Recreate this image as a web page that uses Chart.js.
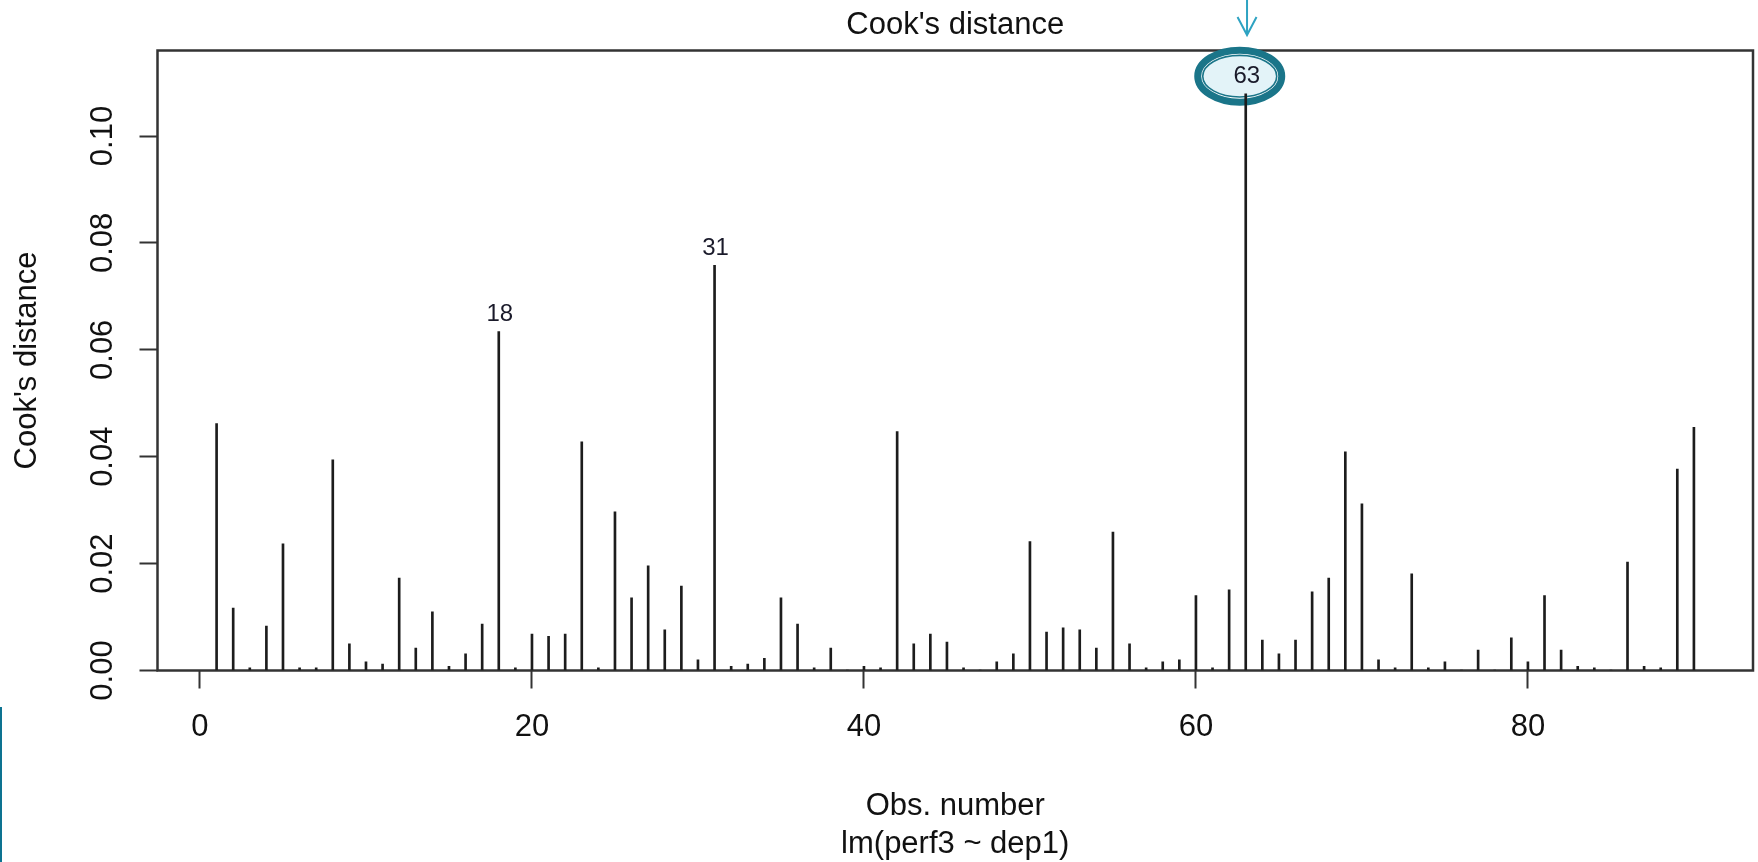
<!DOCTYPE html>
<html><head><meta charset="utf-8">
<script src="https://cdn.jsdelivr.net/npm/chart.js@4.4.1/dist/chart.umd.min.js"></script>
<style>
html,body{margin:0;padding:0;background:#fff;overflow:hidden}
#wrap{position:relative;width:1758px;height:862px}
#strip{position:absolute;left:0;top:707px;width:2px;height:155px;background:#0d7391}
</style></head><body>
<div id="wrap"><canvas id="c" width="1758" height="862"></canvas><div id="strip"></div></div>
<script>
const obsNumbers = [1,2,3,4,5,6,7,8,9,10,11,12,13,14,15,16,17,18,19,20,
  21,22,23,24,25,26,27,28,29,30,31,32,33,34,35,36,37,38,39,40,
  41,42,43,44,45,46,47,48,49,50,51,52,53,54,55,56,57,58,59,60,
  61,62,63,64,65,66,67,68,69,70,71,72,73,74,75,76,77,78,79,80,
  81,82,83,84,85,86,87,88,89,90];
const cooksDistance = [
  0.0462,0.0117,0.0005,0.0083,0.0237,0.0005,0.0005,0.0394,0.0050,0.0016,
  0.0012,0.0173,0.0042,0.0110,0.0008,0.0031,0.0087,0.0634,0.0005,0.0068,
  0.0064,0.0068,0.0428,0.0005,0.0297,0.0136,0.0196,0.0076,0.0158,0.0020,
  0.0758,0.0008,0.0012,0.0023,0.0136,0.0087,0.0005,0.0042,0.0001,0.0008,
  0.0005,0.0447,0.0050,0.0068,0.0053,0.0005,0.0001,0.0016,0.0031,0.0241,
  0.0072,0.0080,0.0076,0.0042,0.0259,0.0050,0.0005,0.0016,0.0020,0.0140,
  0.0005,0.0151,0.1079,0.0057,0.0031,0.0057,0.0147,0.0173,0.0409,0.0312,
  0.0020,0.0005,0.0181,0.0005,0.0016,0.0001,0.0038,0.0001,0.0061,0.0016,
  0.0140,0.0038,0.0008,0.0005,0.0001,0.0203,0.0008,0.0005,0.0377,0.0455];
const labelledObs = [18, 31, 63];
const highlightedObs = 63;
const xTickValues = [0, 20, 40, 60, 80];
const xTickLabels = ['0', '20', '40', '60', '80'];
const yTickValues = [0, 0.02, 0.04, 0.06, 0.08, 0.10];
const yTickLabels = ['0.00', '0.02', '0.04', '0.06', '0.08', '0.10'];
const xMin = -2.56, xMax = 93.56, yMin = 0, yMax = 0.1160;
const mainTitle = "Cook's distance";
const yTitle = "Cook's distance";
const xTitle = ['Obs. number', 'lm(perf3 ~ dep1)'];

const FONT = 'Liberation Sans, Arial, sans-serif';
const INK = '#111';

const overlay = {
  id: 'overlay',
  beforeDatasetsDraw(chart) {
    const {ctx, chartArea: a} = chart;
    ctx.save();
    ctx.strokeStyle = '#333';
    ctx.lineWidth = 2.5;
    ctx.strokeRect(a.left, a.top, a.right - a.left, a.bottom - a.top);
    const el = chart.getDatasetMeta(0).data[obsNumbers.indexOf(highlightedObs)];
    const cx = el.x - 6, cy = el.y - 17.6;
    ctx.beginPath(); ctx.ellipse(cx, cy, 42.0, 26.0, 0, 0, Math.PI * 2);
    ctx.fillStyle = '#ffffff'; ctx.fill();
    ctx.lineWidth = 7; ctx.strokeStyle = '#1a7589'; ctx.stroke();
    ctx.beginPath(); ctx.ellipse(cx, cy, 37.0, 20.8, 0, 0, Math.PI * 2);
    ctx.fillStyle = '#e3f3f8'; ctx.fill();
    ctx.lineWidth = 1.6; ctx.strokeStyle = '#1a7589'; ctx.stroke();
    ctx.restore();
  },
  afterDatasetsDraw(chart) {
    const {ctx} = chart;
    const meta = chart.getDatasetMeta(0);
    ctx.save();
    ctx.font = '24px ' + FONT;
    ctx.fillStyle = '#1a1a2a';
    ctx.textAlign = 'center';
    ctx.textBaseline = 'middle';
    labelledObs.forEach(o => {
      const el = meta.data[obsNumbers.indexOf(o)];
      ctx.fillText(String(o), el.x + 1, el.y - 17);
    });
    const el = meta.data[obsNumbers.indexOf(highlightedObs)];
    const ax = el.x + 1.3;
    ctx.strokeStyle = '#2ea3c2';
    ctx.lineWidth = 2;
    ctx.beginPath();
    ctx.moveTo(ax, 0); ctx.lineTo(ax, 35);
    ctx.moveTo(ax - 9.5, 17); ctx.lineTo(ax, 35); ctx.lineTo(ax + 9.5, 17);
    ctx.stroke();
    ctx.restore();
  }
};

new Chart(document.getElementById('c'), {
  type: 'bar',
  data: {
    datasets: [{
      data: obsNumbers.map((x, i) => ({x: x, y: cooksDistance[i]})),
      backgroundColor: '#1c1c1c',
      borderWidth: 0,
      barThickness: 2
    }]
  },
  options: {
    responsive: false,
    animation: false,
    devicePixelRatio: 1,
    layout: {padding: {left: 0, right: 5, top: 0, bottom: 0}},
    plugins: {legend: {display: false}, tooltip: {enabled: false}, title: {display: false}},
    scales: {
      x: {
        type: 'linear', position: 'bottom', min: xMin, max: xMax, offset: false,
        grid: {display: true, drawOnChartArea: false, drawTicks: true, tickLength: 18, tickWidth: 2, tickColor: '#333', offset: false},
        border: {display: false},
        ticks: {font: {family: FONT, size: 31}, color: INK, padding: 20, maxRotation: 0, minRotation: 0, autoSkip: false,
          callback: (v, i) => xTickLabels[i]},
        afterBuildTicks: s => { s.ticks = xTickValues.map(v => ({value: v})); },
        afterFit: s => { s.height = 191.5; },
        title: {display: true, text: xTitle, font: {family: FONT, size: 31, lineHeight: 1.235}, color: INK, padding: {top: 0, bottom: -2}}
      },
      x2: {
        type: 'linear', position: 'top', min: 0, max: 1,
        grid: {display: false}, border: {display: false},
        ticks: {display: false},
        afterFit: s => { s.height = 50.5; },
        title: {display: true, text: mainTitle, font: {family: FONT, size: 31}, color: INK, padding: {top: 6.4, bottom: 0}}
      },
      y: {
        type: 'linear', position: 'left', min: yMin, max: yMax,
        grid: {display: true, drawOnChartArea: false, drawTicks: true, tickLength: 18, tickWidth: 2, tickColor: '#333'},
        border: {display: false},
        ticks: {font: {family: FONT, size: 31}, color: INK, padding: 6, minRotation: 90, maxRotation: 90, crossAlign: 'center',
          autoSkip: false, callback: (v, i) => yTickLabels[i]},
        afterBuildTicks: s => { s.ticks = yTickValues.map(v => ({value: v})); },
        afterFit: s => { s.width = 157.5; },
        title: {display: true, text: yTitle, font: {family: FONT, size: 31}, color: INK, padding: {top: 8.4, bottom: 0}}
      }
    }
  },
  plugins: [overlay]
});
</script>
</body></html>
